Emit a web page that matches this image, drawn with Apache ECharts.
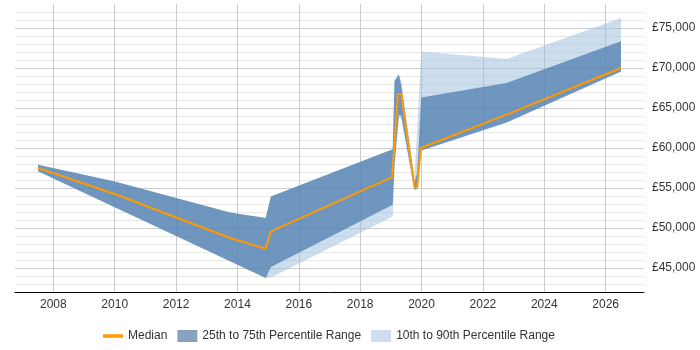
<!DOCTYPE html>
<html>
<head>
<meta charset="utf-8">
<script src="https://cdn.jsdelivr.net/npm/echarts@6/dist/echarts.min.js"></script>
<style>
  html, body { margin: 0; padding: 0; background: #fff; }
  #chart { width: 700px; height: 350px; }
</style>
</head>
<body>
<div id="chart"></div>
<script>
// median salary line
const medianYears = [2007.5, 2010.0, 2013.76, 2014.92, 2015.09, 2019.04, 2019.23, 2019.34, 2019.77, 2019.86, 2019.97, 2022.77, 2026.5];
const medianPay = [57500, 54250, 48750, 47410, 49580, 56350, 66750, 66750, 55100, 55100, 60000, 64170, 70000];

// percentile bands share one set of x points
const bandYears = [2007.5, 2010.0, 2013.76, 2014.92, 2015.09, 2019.06, 2019.12, 2019.26, 2019.34, 2019.77, 2019.86, 2019.99, 2022.77, 2026.5];
const p10 = [57080, 52590, 45830, 43750, 43800, 51450, 57500, 63800, 63600, 54600, 54800, 59700, 63200, 69575];
const p25 = [57080, 52590, 45830, 43750, 45125, 52900, 58000, 64160, 64000, 54800, 55000, 59700, 63200, 69575];
const p75 = [57910, 55825, 51950, 51250, 53950, 59850, 68330, 69160, 67800, 55600, 57000, 66300, 68125, 73330];
const p90 = [57910, 55825, 51950, 51250, 53950, 59850, 68500, 69300, 68300, 56500, 62500, 72050, 71125, 76250];

const legendNames = ['Median', '25th to 75th Percentile Range', '10th to 90th Percentile Range'];

const FONT = '"Liberation Sans", Arial, sans-serif';

// x gridlines every quarter year, only even years drawn
const xLineColors = ['transparent', 'transparent', 'transparent', 'transparent', 'transparent', '#cccccc', 'transparent', 'transparent'];
// y gridlines every 1000, darker every 5000 (42000 is index 0)
const yLineColors = ['#e8e8e8', '#e8e8e8', '#e8e8e8', '#cccccc', '#e8e8e8'];

// band as one polygon: upper edge forward, lower edge back
function bandSeries(name, lo, hi, fill) {
  return {
    name: name,
    type: 'custom',
    silent: true,
    itemStyle: { color: fill },
    data: bandYears.map((x, i) => [x, lo[i], hi[i]]),
    encode: { x: 0, y: [1, 2] },
    renderItem: function (params, api) {
      if (params.dataIndex !== 0) return null;
      const top = [], bottom = [];
      for (let i = 0; i < bandYears.length; i++) {
        top.push(api.coord([bandYears[i], hi[i]]));
        bottom.push(api.coord([bandYears[i], lo[i]]));
      }
      return {
        type: 'polygon',
        shape: { points: top.concat(bottom.reverse()) },
        style: { fill: fill }
      };
    }
  };
}

const chart = echarts.init(document.getElementById('chart'), null, { renderer: 'canvas' });

const option = {
  animation: false,
  grid: { left: 15, right: 56, top: 4, bottom: 58 },
  legend: {
    left: 98,
    top: 325,
    itemWidth: 20,
    itemHeight: 12,
    itemGap: 10,
    textStyle: { fontFamily: FONT, fontSize: 12, color: '#333' },
    data: [
      { name: legendNames[0], icon: 'path://M0,0 L20,0 L20,3.5 L0,3.5 Z', itemStyle: { color: '#ff9900' } },
      { name: legendNames[1], icon: 'rect', itemStyle: { color: '#87a3c4' } },
      { name: legendNames[2], icon: 'rect', itemStyle: { color: '#cfdeee' } }
    ]
  },
  xAxis: {
    type: 'value',
    min: 2006.75,
    max: 2027.25,
    interval: 0.25,
    axisLine: { show: true, onZero: false, lineStyle: { color: '#000', width: 1 } },
    axisTick: { show: false },
    axisLabel: {
      interval: 0,
      margin: 7,
      fontFamily: FONT,
      fontSize: 12,
      color: '#333',
      formatter: v => (Math.abs(v - Math.round(v)) < 1e-6 && Math.round(v) % 2 === 0) ? String(Math.round(v)) : ''
    },
    splitLine: { show: true, interval: 0, lineStyle: { color: xLineColors, width: 1 } }
  },
  yAxis: {
    type: 'value',
    position: 'right',
    min: 42000,
    max: 78000,
    interval: 1000,
    axisLine: { show: false },
    axisTick: { show: false },
    axisLabel: {
      interval: 0,
      margin: 8,
      fontFamily: FONT,
      fontSize: 12,
      color: '#333',
      formatter: v => v % 5000 === 0 ? '£' + v.toLocaleString('en-GB') : ''
    },
    splitLine: { show: true, interval: 0, showMaxLine: false, lineStyle: { color: yLineColors, width: 1 } }
  },
  series: [
    bandSeries(legendNames[2], p10, p90, 'rgba(153,187,221,0.5)'),
    bandSeries(legendNames[1], p25, p75, 'rgba(71,120,169,0.7)'),
    {
      name: legendNames[0],
      type: 'line',
      data: medianYears.map((x, i) => [x, medianPay[i]]),
      symbol: 'none',
      itemStyle: { color: '#ff9900' },
      lineStyle: { color: '#ff9900', width: 2 },
      z: 5
    }
  ]
};

chart.setOption(option);
</script>
</body>
</html>
